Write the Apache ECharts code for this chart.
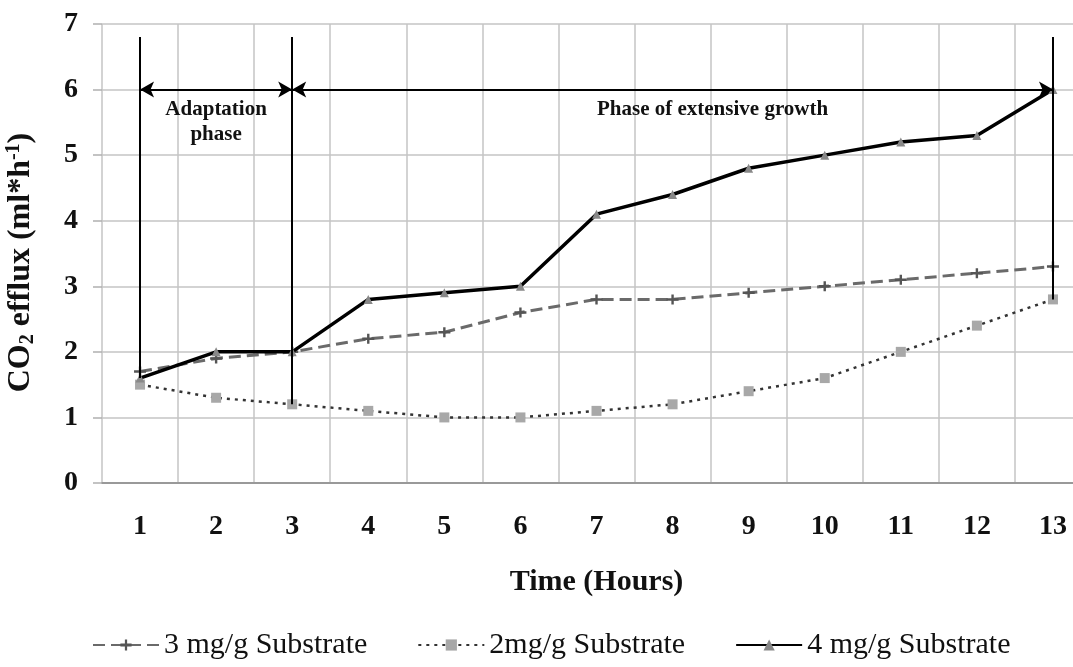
<!DOCTYPE html>
<html>
<head>
<meta charset="utf-8">
<script src="https://cdn.jsdelivr.net/npm/echarts@6/dist/echarts.min.js"></script>
<style>html,body{margin:0;padding:0;background:#fff}#c{width:1073px;height:667px}</style>
</head>
<body>
<div id="c"></div>
<script>
const hours = ['1','2','3','4','5','6','7','8','9','10','11','12','13'];
const sub3 = [1.7, 1.9, 2.0, 2.2, 2.3, 2.6, 2.8, 2.8, 2.9, 3.0, 3.1, 3.2, 3.3];
const sub2 = [1.5, 1.3, 1.2, 1.1, 1.0, 1.0, 1.1, 1.2, 1.4, 1.6, 2.0, 2.4, 2.8];
const sub4 = [1.6, 2.0, 2.0, 2.8, 2.9, 3.0, 4.1, 4.4, 4.8, 5.0, 5.2, 5.3, 6.0];
const seriesNames = ['3 mg/g Substrate', '2mg/g Substrate', '4 mg/g Substrate'];
// phase boundary lines: [hour, top value, bottom value]
const phaseLines = [['1', 6.8, 1.6], ['3', 6.8, 1.2], ['13', 6.8, 2.8]];
// phase arrows: [start hour, end hour, value, label]
const phaseArrows = [['1', '3', 6, 'Adaptation\nphase'], ['3', '13', 6, 'Phase of extensive growth']];

const serif = '"Liberation Serif", "DejaVu Serif", serif';
const chart = echarts.init(document.getElementById('c'));

const markData = [];
phaseLines.forEach(p => {
  markData.push([{coord: [p[0], p[1]], symbol: 'none'}, {coord: [p[0], p[2]], symbol: 'none'}]);
});
phaseArrows.forEach((a, i) => {
  markData.push([
    {coord: [a[0], a[2]], symbol: 'arrow',
     label: {show: true, position: 'insideMiddleBottom', formatter: a[3],
             fontFamily: serif, fontWeight: 'bold', fontSize: 21, color: '#111',
             lineHeight: 25, distance: 8,
             padding: i === 1 ? [0, 0, 0, 80] : 0}},
    {coord: [a[1], a[2]], symbol: 'arrow'}
  ]);
});

chart.setOption({
  animation: false,
  grid: {left: 102, width: 989, top: 24, bottom: 184, containLabel: false, outerBoundsMode: 'none'},
  legend: {
    bottom: 2, left: 87, itemWidth: 66, itemHeight: 14, itemGap: 50,
    textStyle: {fontFamily: serif, fontSize: 30, color: '#111'},
    data: seriesNames
  },
  xAxis: {
    type: 'category', data: hours, boundaryGap: true,
    name: 'Time (Hours)', nameLocation: 'middle', nameGap: 84,
    nameTextStyle: {fontFamily: serif, fontWeight: 'bold', fontSize: 30, color: '#111'},
    axisLine: {lineStyle: {color: '#999', width: 2}},
    axisTick: {show: false},
    axisLabel: {fontFamily: serif, fontWeight: 'bold', fontSize: 28, color: '#111', margin: 30},
    splitLine: {show: true, lineStyle: {color: '#c4c4c4', width: 1.5}}
  },
  yAxis: {
    type: 'value', min: 0, max: 7, interval: 1,
    name: 'CO{sub|2} efflux (ml*h{sup|-1})', nameLocation: 'middle', nameGap: 64, nameRotate: 90,
    nameTextStyle: {fontFamily: serif, fontWeight: 'bold', fontSize: 32, color: '#111',
      padding: [0, 18, 0, 0],
      rich: {
        sub: {fontFamily: serif, fontWeight: 'bold', fontSize: 20, color: '#111', verticalAlign: 'bottom', padding: [14, 0, 0, 0]},
        sup: {fontFamily: serif, fontWeight: 'bold', fontSize: 20, color: '#111', verticalAlign: 'top', padding: [0, 0, 14, 0]}
      }},
    axisLine: {show: false},
    axisTick: {show: true, length: 9, lineStyle: {color: '#b0b0b0', width: 1.5}},
    axisLabel: {fontFamily: serif, fontWeight: 'bold', fontSize: 28, color: '#111', margin: 24},
    splitLine: {show: true, lineStyle: {color: '#c4c4c4', width: 1.5}}
  },
  series: [
    {
      name: seriesNames[0], type: 'line', data: sub3, z: 3,
      symbol: 'path://M0,4 L10,4 L10,6 L0,6 Z M4,1 L6,1 L6,9 L4,9 Z', symbolSize: [12, 10],
      itemStyle: {color: '#555'},
      lineStyle: {color: '#6a6a6a', width: 3, type: [12, 6]}
    },
    {
      name: seriesNames[1], type: 'line', data: sub2, z: 3,
      symbol: 'rect', symbolSize: 10,
      itemStyle: {color: '#a8a8a8'},
      lineStyle: {color: '#333', width: 2.5, type: [3, 5]}
    },
    {
      name: seriesNames[2], type: 'line', data: sub4, z: 4,
      symbol: 'triangle', symbolSize: 9,
      itemStyle: {color: '#888'},
      lineStyle: {color: '#000', width: 3.5},
      markLine: {
        silent: true, symbolSize: [12, 14],
        lineStyle: {color: '#000', width: 2, type: 'solid'},
        itemStyle: {color: '#000'},
        label: {show: false},
        emphasis: {disabled: true},
        data: markData
      }
    }
  ]
});
</script>
</body>
</html>
